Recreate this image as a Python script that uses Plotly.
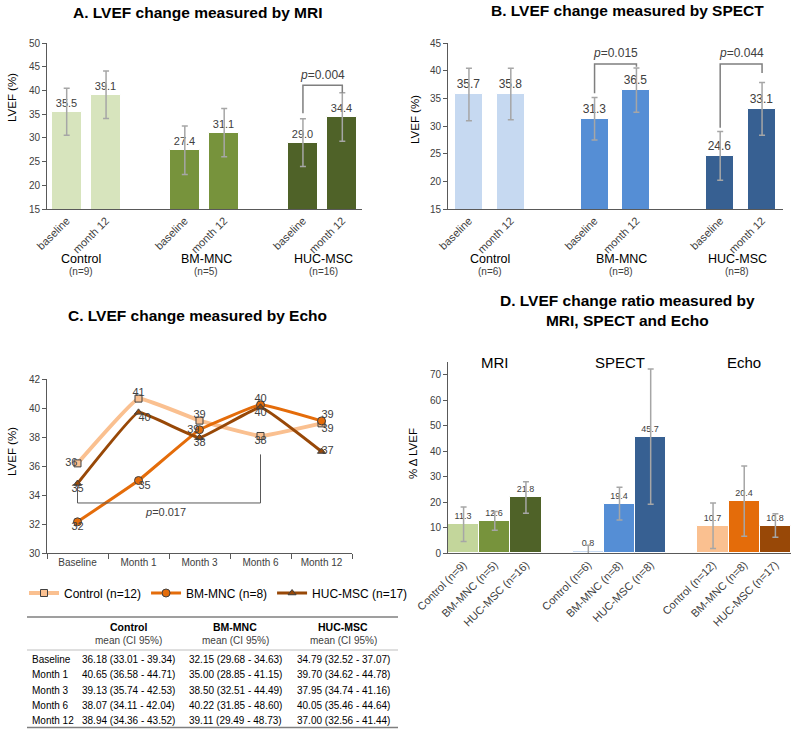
import plotly.graph_objects as go

W, H = 794, 732
FONT = "Arial, Liberation Sans, sans-serif"
GREY = "#404040"
ERR = "#a6a6a6"


def px(x):
    return x / W


def py(y):
    return 1 - y / H


groups = ["Control", "BM-MNC", "HUC-MSC"]
time_ticks = ["baseline", "month 12"] * 3
pair_x = [0, 1, 3, 4, 6, 7]

# A. MRI
mri_vals = [35.5, 39.1, 27.4, 31.1, 29.0, 34.4]
mri_err = [4.95, 5.0, 5.1, 5.1, 5.05, 5.1]
mri_n = ["(n=9)", "(n=5)", "(n=16)"]
mri_colors = ["#d7e4bd", "#d7e4bd", "#77933c", "#77933c", "#4f6228", "#4f6228"]
mri_p = [(6, 7, 35.2, 39.5, 41.1, "0.004")]

# B. SPECT
spect_vals = [35.7, 35.8, 31.3, 36.5, 24.6, 33.1]
spect_err = [4.75, 4.65, 3.85, 4.0, 4.4, 4.75]
spect_n = ["(n=6)", "(n=8)", "(n=8)"]
spect_colors = ["#c6d9f1", "#c6d9f1", "#558ed5", "#558ed5", "#376092", "#376092"]
spect_p = [(3, 4, 35.9, 40.7, 41.2, "0.015"), (6, 7, 29.7, 39.6, 41.2, "0.044")]

# C. Echo
echo_times = ["Baseline", "Month 1", "Month 3", "Month 6", "Month 12"]
echo_control = [36.18, 40.65, 39.13, 38.07, 38.94]
echo_bm = [32.15, 35.00, 38.50, 40.22, 39.11]
echo_huc = [34.79, 39.70, 37.95, 40.05, 37.00]
echo_control_ci = ["33.01 - 39.34", "36.58 - 44.71", "35.74 - 42.53", "34.11 - 42.04", "34.36 - 43.52"]
echo_bm_ci = ["29.68 - 34.63", "28.85 - 41.15", "32.51 - 44.49", "31.85 - 48.60", "29.49 - 48.73"]
echo_huc_ci = ["32.52 - 37.07", "34.62 - 44.78", "34.74 - 41.16", "35.46 - 44.64", "32.56 - 41.44"]
echo_names = ["Control (n=12)", "BM-MNC (n=8)", "HUC-MSC (n=17)"]

# D. change ratio
ratio_x = [0, 1, 2, 4, 5, 6, 8, 9, 10]
ratio_ticks = ["Control (n=9)", "BM-MNC (n=5)", "HUC-MSC (n=16)",
               "Control (n=6)", "BM-MNC (n=8)", "HUC-MSC (n=8)",
               "Control (n=12)", "BM-MNC (n=8)", "HUC-MSC (n=17)"]
ratio_vals = [11.3, 12.6, 21.8, 0.8, 19.4, 45.7, 10.7, 20.4, 10.8]
ratio_err = [6.8, 3.7, 6.2, 2.2, 6.4, 26.6, 8.9, 13.8, 4.6]
ratio_colors = ["#c3d69b", "#77933c", "#4f6228",
                "#c6d9f1", "#558ed5", "#376092",
                "#fac090", "#e46c0a", "#984807"]
methods = ["MRI", "SPECT", "Echo"]

fig = go.Figure()


def bar_trace(x, vals, err, colors, xa, ya, width, size):
    return go.Bar(x=x, y=vals, marker=dict(color=colors, line=dict(color="white", width=1)),
                  width=width, xaxis=xa, yaxis=ya, showlegend=False,
                  error_y=dict(type="data", array=err, color=ERR, thickness=1.5, width=3),
                  text=[f"{v:.1f}" for v in vals], textposition="outside",
                  textfont=dict(size=size, color=GREY, family=FONT),
                  constraintext="none", cliponaxis=False)


fig.add_trace(bar_trace(pair_x, mri_vals, mri_err, mri_colors, "x", "y", 0.77, 11))
fig.add_trace(bar_trace(pair_x, spect_vals, spect_err, spect_colors, "x2", "y2", 0.67, 12))
fig.add_trace(bar_trace(ratio_x, ratio_vals, ratio_err, ratio_colors, "x4", "y4", 1.0, 9))

# echo lines
series = [(echo_control, "#fac090", 4, "square", 7),
          (echo_bm, "#e46c0a", 3, "circle", 8),
          (echo_huc, "#984807", 3, "triangle-up", 7)]
label_pos = [["middle left", "top center", "top center", "bottom center", "bottom right"],
             ["bottom center", "bottom right", "middle left", "top center", "top right"],
             ["bottom center", "bottom right", "bottom center", "bottom center", "middle right"]]
for (vals, col, lw, sym, ms), name, pos in zip(series, echo_names, label_pos):
    fig.add_trace(go.Scatter(x=echo_times, y=vals, mode="lines+markers", name=name,
                             line=dict(color=col, width=lw, shape="spline", smoothing=0.25),
                             marker=dict(symbol=sym, size=ms, color=col, line=dict(color="#404040", width=1)),
                             xaxis="x3", yaxis="y3"))
    fig.add_trace(go.Scatter(x=echo_times, y=vals, mode="text", showlegend=False,
                             text=[f"{v:.0f}" if v != 38.50 else "39" for v in vals],
                             textposition=pos, textfont=dict(size=11, color=GREY, family=FONT),
                             xaxis="x3", yaxis="y3", hoverinfo="skip"))

axis_common = dict(showline=True, linecolor="#595959", linewidth=1, showgrid=False, zeroline=False,
                   automargin=False)
tick10 = dict(size=10, color=GREY, family=FONT)
tick11 = dict(size=11, color=GREY, family=FONT)

shapes = []
annotations = []


def note(x, y, text, size, color="black", **kw):
    d = dict(x=px(x), y=py(y), xref="paper", yref="paper", text=text, showarrow=False,
             xanchor="center", yanchor="middle", font=dict(size=size, color=color, family=FONT))
    d.update(kw)
    annotations.append(d)


# A/B brackets
for xa, ya, plist in [("x", "y", mri_p), ("x2", "y2", spect_p)]:
    for x0, x1, yl, yr, yt, p in plist:
        shapes.append(dict(type="path", xref=xa, yref=ya,
                           path=f"M {x0},{yl} L {x0},{yt} L {x1},{yt} L {x1},{yr}",
                           line=dict(color="#7f7f7f", width=1.5)))
        annotations.append(dict(x=(x0 + x1) / 2, y=yt + 0.3, xref=xa, yref=ya, yanchor="bottom",
                                xanchor="center", text=f"<i>p</i>={p}", showarrow=False,
                                font=dict(size=12, color=GREY, family=FONT)))

# C bracket
for x0, x1, y0, y1 in [(0, 0, 34.6, 33.45), (0, 3, 33.45, 33.45), (3, 3, 33.45, 36.8)]:
    shapes.append(dict(type="line", xref="x3", yref="y3", x0=x0, x1=x1, y0=y0, y1=y1,
                       line=dict(color="#595959", width=1)))
annotations.append(dict(x=1.45, y=32.85, xref="x3", yref="y3", text="<i>p</i>=0.017", showarrow=False,
                        xanchor="center", font=dict(size=11, color=GREY, family=FONT)))

# titles
note(198, 12, "<b>A. LVEF change measured by MRI</b>", 15.5)
note(627, 11, "<b>B. LVEF change measured by SPECT</b>", 15.5)
note(197, 315, "<b>C. LVEF change measured by Echo</b>", 15.5)
note(627, 310, "<b>D. LVEF change ratio measured by<br>MRI, SPECT and Echo</b>", 15.5)

# y axis titles
for x, y, t in [(12, 98, "LVEF (%)"), (415, 120, "LVEF (%)"), (12, 452, "LVEF (%)"), (413, 454, "% Δ LVEF")]:
    note(x, y, t, 11.5, textangle=-90)

# group labels A/B
for xs, nlist in [([81, 206, 323], mri_n), ([490, 621, 737], spect_n)]:
    for x, g, n in zip(xs, groups, nlist):
        note(x, 259, g, 12.5)
        note(x, 271.5, n, 10, GREY)

# method labels D
for x, m in zip([1, 5, 9], methods):
    annotations.append(dict(x=x, y=py(362), xref="x4", yref="paper", text=m, showarrow=False,
                            xanchor="center", font=dict(size=15, color="black", family=FONT)))

# table
col_x = [128, 235, 343]
for x, g in zip(col_x, groups):
    note(x, 627, f"<b>{g}</b>", 10.5)
    note(x, 640.5, "mean (CI 95%)", 10, GREY)
row_y = [659.3, 674.7, 690, 705.7, 720.7]
for i, ry in enumerate(row_y):
    note(30, ry, echo_times[i], 10, xanchor="left")
    for x, vals, ci in zip(col_x, [echo_control, echo_bm, echo_huc], [echo_control_ci, echo_bm_ci, echo_huc_ci]):
        note(x, ry, f"{vals[i]:.2f} ({ci[i]})", 10)
for y, c, w in [(617, "#7f7f7f", 1.5), (650, "#bfbfbf", 1), (727.5, "#7f7f7f", 1.5)]:
    shapes.append(dict(type="line", xref="paper", yref="paper", x0=px(27), x1=px(398), y0=py(y), y1=py(y),
                       line=dict(color=c, width=w)))

fig.update_layout(
    width=W, height=H, margin=dict(l=0, r=0, t=0, b=0, autoexpand=False),
    plot_bgcolor="white", paper_bgcolor="white",
    font=dict(family=FONT, color=GREY),
    bargap=0,
    xaxis=dict(domain=[px(47), px(362)], anchor="y", range=[-0.5, 7.5], tickvals=pair_x, ticktext=time_ticks,
               tickangle=-45, ticks="", tickfont=tick11, **axis_common),
    yaxis=dict(domain=[py(209), py(43)], anchor="x", range=[15, 50], dtick=5, ticks="outside", ticklen=4,
               tickcolor="#595959", tickfont=tick10, **axis_common),
    xaxis2=dict(domain=[px(448), px(783)], anchor="y2", range=[-0.5, 7.5], tickvals=pair_x, ticktext=time_ticks,
                tickangle=-45, ticks="", tickfont=tick11, **axis_common),
    yaxis2=dict(domain=[py(209), py(43)], anchor="x2", range=[15, 45], dtick=5, ticks="outside", ticklen=4,
                tickcolor="#595959", tickfont=tick10, **axis_common),
    xaxis3=dict(domain=[px(47), px(352)], anchor="y3", type="category", range=[-0.5, 4.5],
                ticks="outside", tickson="boundaries", ticklen=5, tickcolor="#595959", tickfont=tick10,
                **axis_common),
    yaxis3=dict(domain=[py(553), py(379)], anchor="x3", range=[30, 42], dtick=2, ticks="outside", ticklen=4,
                tickcolor="#595959", tickfont=tick10, **axis_common),
    xaxis4=dict(domain=[px(448), px(791)], anchor="y4", range=[-0.5, 10.5], tickvals=ratio_x, ticktext=ratio_ticks,
                tickangle=-45, ticks="", tickfont=tick11, **axis_common),
    yaxis4=dict(domain=[py(553), py(362)], anchor="x4", range=[0, 75], tickvals=[0, 10, 20, 30, 40, 50, 60, 70],
                ticks="outside", ticklen=4, tickcolor="#595959", tickfont=tick10, **axis_common),
    legend=dict(orientation="h", x=px(24), y=py(593), xanchor="left", yanchor="middle",
                font=dict(size=12, color="black", family=FONT), itemwidth=30, tracegroupgap=0,
                bgcolor="rgba(0,0,0,0)"),
    shapes=shapes, annotations=annotations,
)

fig.write_html("out.html", config={"displayModeBar": False},
               post_script="document.body.style.margin='0px';")
